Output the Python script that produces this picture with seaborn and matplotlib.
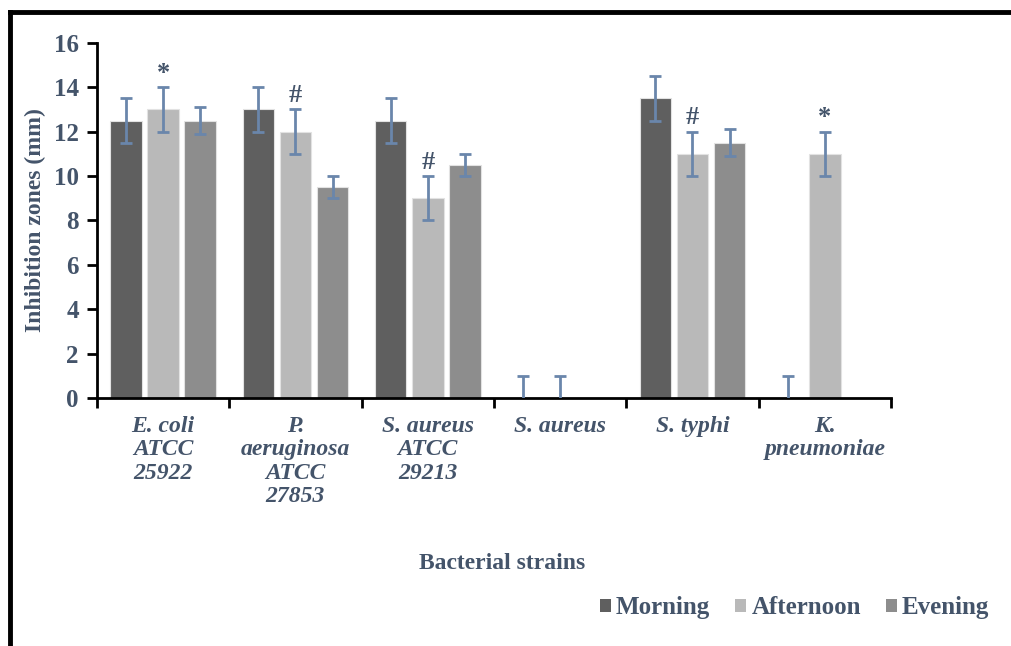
import seaborn as sns
import matplotlib.pyplot as plt
import numpy as np
import pandas as pd
from matplotlib.lines import Line2D

sns.set_style('white')
plt.rcParams['font.family'] = ['Liberation Serif', 'DejaVu Serif']
plt.rcParams['font.weight'] = 'bold'

strains = ['E. coli\nATCC\n25922', 'P.\naeruginosa\nATCC\n27853', 'S. aureus\nATCC\n29213',
           'S. aureus', 'S. typhi', 'K.\npneumoniae']
times = ['Morning', 'Afternoon', 'Evening']
morning = [12.5, 13.0, 12.5, 0.0, 13.5, 0.0]
afternoon = [13.0, 12.0, 9.0, 0.0, 11.0, 11.0]
evening = [12.5, 9.5, 10.5, np.nan, 11.5, np.nan]
morning_err = [1.0, 1.0, 1.0, 1.0, 1.0, 1.0]
afternoon_err = [1.0, 1.0, 1.0, 1.0, 1.0, 1.0]
evening_err = [0.6, 0.5, 0.5, np.nan, 0.6, np.nan]
signs = ['*', '#', '#', '', '#', '*']   # marks over the afternoon bars

txt = '#44546a'
colors = {'Morning': '#5f5f5f', 'Afternoon': '#b9b9b9', 'Evening': '#8d8d8d'}

df = pd.DataFrame({
    'strain': strains * 3,
    'time': sum([[t] * len(strains) for t in times], []),
    'zone': morning + afternoon + evening,
    'err': morning_err + afternoon_err + evening_err,
})

fig = plt.figure(figsize=(10.12, 6.46), dpi=100)
ax = fig.add_axes([0.0958, 0.384, 0.7846, 0.5496])

sns.barplot(data=df, x='strain', y='zone', hue='time', hue_order=times, order=strains,
            palette=colors, width=0.84, gap=0.15, edgecolor='#e2e2e2', linewidth=0.8,
            errorbar=None, legend=False, ax=ax)

# error bars at the bar centres
for i, t in enumerate(times):
    sub = df[df.time == t].set_index('strain').loc[strains]
    xs = np.arange(len(strains)) + (i - 1) * 0.84 / 3
    ax.errorbar(xs, sub.zone.values, yerr=sub.err.values, fmt='none',
                ecolor='#6a86ab', elinewidth=2, capsize=4.5, capthick=2, zorder=4)

# significance marks
for j, s in enumerate(signs):
    if s:
        top = afternoon[j] + afternoon_err[j]
        ax.text(j, top + 0.1, s, ha='center', va='bottom', fontsize=19,
                fontweight='bold', color=txt)

ax.set_ylim(0, 16)
ax.set_xlim(-0.5, len(strains) - 0.5)
ax.set_yticks(np.arange(0, 17, 2))
ax.set_yticklabels([str(v) for v in range(0, 17, 2)], fontsize=18, color=txt, fontweight='bold')
ax.set_xticks(np.arange(-0.5, len(strains), 1.0))
ax.set_xticklabels([])
ax.set_xticks(np.arange(len(strains)), minor=True)
ax.set_xticklabels(strains, minor=True, fontsize=17, fontstyle='italic', fontweight='bold',
                   color=txt, linespacing=1.15)
ax.tick_params(axis='x', which='major', direction='out', length=7, width=2, color='black', bottom=True)
ax.tick_params(axis='x', which='minor', length=0, pad=13)
ax.tick_params(axis='y', direction='out', length=7, width=2, color='black', left=True, pad=6)

sns.despine(ax=ax)
for sp in ['left', 'bottom']:
    ax.spines[sp].set_linewidth(2)
    ax.spines[sp].set_color('black')

ax.set_ylabel('Inhibition zones (mm)', fontsize=17, fontweight='bold', color=txt, va='center')
ax.yaxis.set_label_coords(-0.078, 0.5)
ax.set_xlabel('Bacterial strains', fontsize=17, fontweight='bold', color=txt, va='center')
ax.xaxis.set_label_coords(0.51, -0.465)

handles = [plt.Rectangle((0, 0), 1, 1, facecolor=colors[t], edgecolor='none') for t in times]
fig.legend(handles, times, loc='center right', bbox_to_anchor=(1.0, 0.059), ncol=3,
           frameon=False, handlelength=0.45, handleheight=0.45, handletextpad=0.2,
           columnspacing=1.0, prop={'family': 'Liberation Serif', 'weight': 'bold', 'size': 18},
           labelcolor=txt)

# frame lines on the top and left of the figure
fig.add_artist(Line2D([0.0094, 1.0], [0.9807, 0.9807], transform=fig.transFigure,
                      color='black', lw=3.5, solid_capstyle='projecting'))
fig.add_artist(Line2D([0.0094, 0.0094], [0.0, 0.9807], transform=fig.transFigure,
                      color='black', lw=3.5, solid_capstyle='projecting'))

fig.savefig('out.png', dpi=100, facecolor='white')
